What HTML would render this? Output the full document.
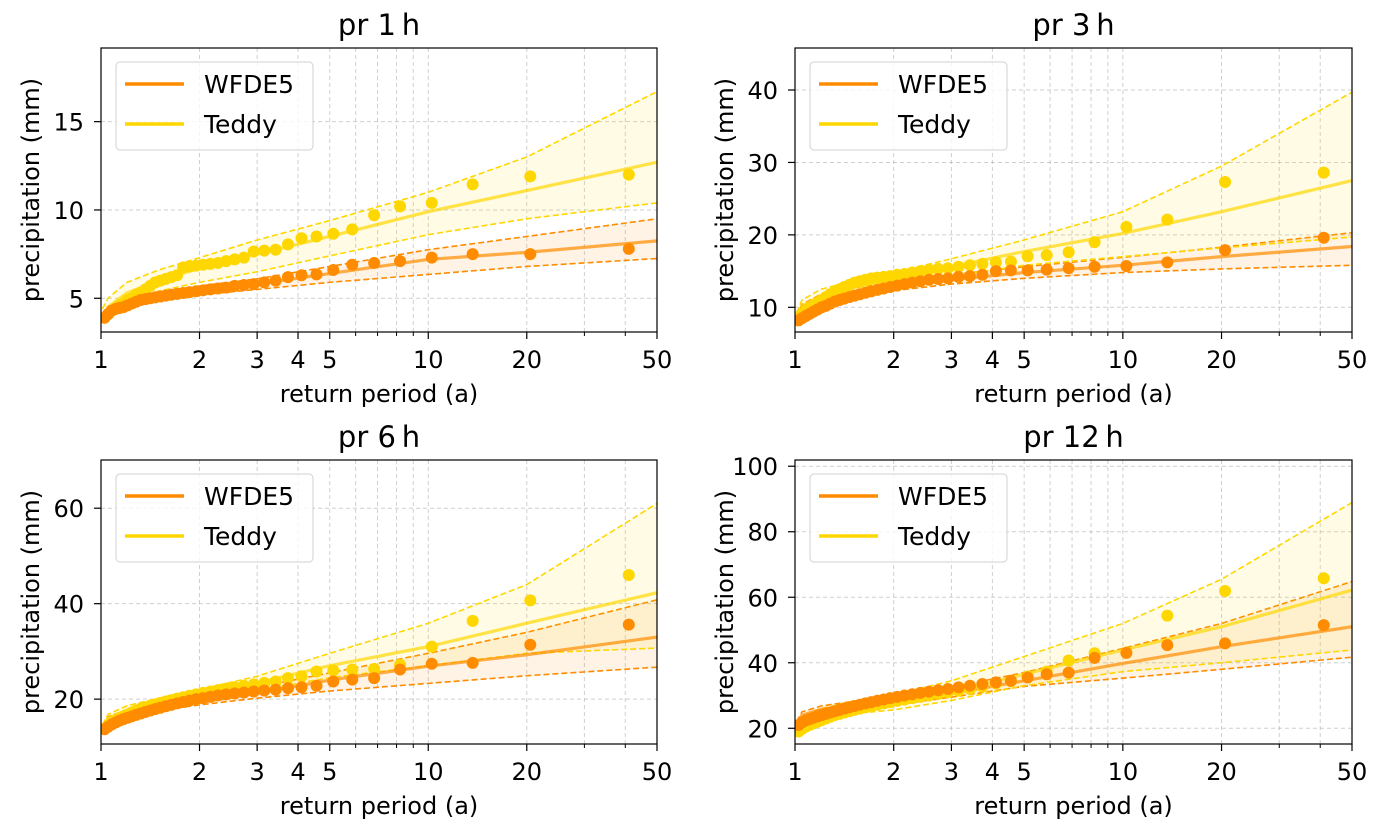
<!DOCTYPE html>
<html><head><meta charset="utf-8"><style>
html,body{margin:0;padding:0;background:#fff}
svg{display:block;font-family:"DejaVu Sans","Liberation Sans",sans-serif}
</style></head><body>
<svg id="fig" width="1385" height="830" viewBox="0 0 1385 830" xmlns="http://www.w3.org/2000/svg"></svg>
<script>
const fitT = [1.01,1.05,1.2,1.5,2,3,5,10,20,50];
const xTickVals = [1,2,3,4,5,10,20,50];
const xMinorVals = [6,7,8,9,30,40];
const panelTitles = ["pr 1\u2009h","pr 3\u2009h","pr 6\u2009h","pr 12\u2009h"];
const yTicks1 = [5,10,15];
const yTicks3 = [10,20,30,40];
const yTicks6 = [20,40,60];
const yTicks12 = [20,40,60,80,100];
// observed (sorted descending) values; return period = 41/rank
const wfde1 = [7.8,7.5,7.5,7.3,7.1,7.0,6.9,6.6,6.35,6.3,6.2,6.0,5.9,5.8,5.75,5.7,5.6,5.55,5.5,5.45,5.4,5.35,5.3,5.25,5.2,5.15,5.1,5.05,5.0,4.95,4.9,4.8,4.7,4.6,4.5,4.45,4.4,4.3,4.1,3.9];
const teddy1 = [12.0,11.9,11.45,10.4,10.2,9.7,8.9,8.65,8.5,8.4,8.05,7.75,7.7,7.65,7.3,7.2,7.1,7.0,6.95,6.9,6.85,6.8,6.75,6.3,6.2,6.1,6.0,5.9,5.7,5.5,5.3,5.2,5.0,4.9,4.7,4.6,4.4,4.3,4.1,3.9];
const wfde3 = [19.6,17.9,16.2,15.7,15.6,15.4,15.2,15.1,15.1,15.0,14.5,14.3,14.2,14.0,13.9,13.8,13.6,13.4,13.2,13.0,12.8,12.6,12.4,12.2,12.0,11.8,11.6,11.4,11.2,11.0,10.8,10.5,10.2,10.0,9.7,9.4,9.1,8.8,8.5,8.2];
const teddy3 = [28.6,27.3,22.1,21.1,19.0,17.6,17.2,17.05,16.3,16.2,16.0,15.8,15.6,15.4,15.3,15.2,15.0,14.8,14.6,14.5,14.3,14.2,14.1,14.0,13.8,13.6,13.4,13.1,12.8,12.5,12.2,11.8,11.4,11.0,10.6,10.2,9.8,9.4,9.0,8.5];
const wfde6 = [35.6,31.4,27.6,27.4,26.2,24.4,24.1,23.7,22.8,22.5,22.3,22.0,21.8,21.6,21.4,21.2,21.0,20.8,20.5,20.2,20.0,19.7,19.4,19.1,18.8,18.5,18.2,17.9,17.6,17.3,17.0,16.7,16.4,16.1,15.8,15.5,15.1,14.7,14.2,13.7];
const teddy6 = [46.0,40.7,36.4,31.0,27.2,26.3,26.2,26.0,25.8,24.8,24.4,23.7,23.4,23.1,22.8,22.5,22.2,21.9,21.6,21.3,21.0,20.7,20.4,20.1,19.8,19.5,19.2,18.9,18.6,18.3,18.0,17.6,17.2,16.8,16.4,16.0,15.5,15.0,14.4,13.8];
const wfde12 = [51.5,45.9,45.4,43.0,41.5,37.0,36.5,35.5,34.5,34.0,33.5,33.0,32.5,32.0,31.6,31.2,30.8,30.4,30.0,29.6,29.2,28.8,28.4,28.0,27.6,27.2,26.8,26.4,26.0,25.6,25.2,24.8,24.4,24.0,23.6,23.2,22.8,22.4,21.8,21.0];
const teddy12 = [65.8,61.9,54.4,43.1,42.9,40.7,37.3,35.8,34.4,33.7,32.7,32.0,31.5,31.0,30.5,30.0,29.6,29.2,28.8,28.4,28.0,27.6,27.2,26.8,26.4,26.0,25.6,25.2,24.8,24.4,24.0,23.5,23.0,22.5,22.0,21.5,21.0,20.5,19.8,19.0];
// fitted curves at fitT
const wFit1=[3.7,4.3,4.8,5.1,5.4,5.8,6.4,7.2,7.6,8.25], wLo1=[3.6,4.2,4.6,4.9,5.2,5.5,5.9,6.35,6.8,7.25], wHi1=[4.0,4.5,5.0,5.35,5.7,6.1,6.8,7.75,8.5,9.5];
const tFit1=[3.9,4.5,5.3,6.0,6.7,7.5,8.5,9.9,11.1,12.7], tLo1=[3.7,4.3,4.9,5.4,5.9,6.5,7.4,8.6,9.5,10.4], tHi1=[4.4,5.0,5.9,6.6,7.3,8.3,9.4,11.0,13.0,16.7];
const wFit3=[8.3,10.0,11.3,12.1,12.8,13.8,14.8,15.8,17.0,18.4], wLo3=[8.0,9.6,10.8,11.6,12.3,13.2,14.0,14.8,15.3,15.8], wHi3=[8.7,10.4,11.8,12.7,13.4,14.5,15.6,16.9,18.3,20.3];
const tFit3=[8.6,10.2,11.6,12.7,13.9,15.6,17.7,20.2,23.2,27.5], tLo3=[8.2,9.8,11.1,12.0,13.0,14.3,15.8,17.0,18.2,19.7], tHi3=[9.2,11.0,12.5,13.6,14.8,16.7,19.3,23.2,29.5,39.7];
const wFit6=[13.5,15.5,17.0,18.2,19.3,21.2,24.0,26.9,29.3,33.0], wLo6=[13.0,15.0,16.5,17.6,18.8,20.2,21.7,23.3,24.9,26.7], wHi6=[14.2,16.3,17.8,19.2,20.5,22.5,25.5,29.6,34.0,40.8];
const tFit6=[13.8,16.0,17.7,19.2,20.8,23.4,27.0,31.0,35.9,42.3], tLo6=[13.2,15.3,17.0,18.3,19.8,21.8,24.5,27.0,29.6,30.7], tHi6=[14.6,16.8,18.6,20.2,22.0,24.8,29.6,35.9,44.0,61.0];
const wFit12=[21.0,24.0,25.8,27.0,28.2,30.6,34.5,39.8,44.9,51.0], wLo12=[20.0,23.0,24.8,26.0,27.1,29.5,32.8,35.3,38.0,41.7], wHi12=[22.0,25.0,26.8,28.2,29.7,32.5,37.0,44.4,52.0,64.8];
const tFit12=[18.5,22.0,24.5,26.0,27.6,31.0,36.5,43.9,51.0,62.2], tLo12=[17.5,20.5,23.0,24.5,25.6,28.5,33.0,37.3,40.0,43.9], tHi12=[19.5,23.5,26.0,28.3,30.2,34.5,41.9,52.0,65.5,88.9];

const NS="http://www.w3.org/2000/svg";
const svg=document.getElementById('fig');
function mk(tag,attrs,parent){const e=document.createElementNS(NS,tag);for(const k in attrs)e.setAttribute(k,attrs[k]);(parent||svg).appendChild(e);return e;}
const WC="#ff8c00", TC="#ffd700";
const panels=[
 {x0:101,x1:657,y0:48,y1:332,ymin:3.09,ymax:19.17,ticks:yTicks1,w:wfde1,t:teddy1,wf:[wFit1,wLo1,wHi1],tf:[tFit1,tLo1,tHi1],name:"pr-1h"},
 {x0:795,x1:1352,y0:48,y1:332,ymin:6.59,ymax:45.8,ticks:yTicks3,w:wfde3,t:teddy3,wf:[wFit3,wLo3,wHi3],tf:[tFit3,tLo3,tHi3],name:"pr-3h"},
 {x0:101,x1:657,y0:460,y1:744,ymin:10.6,ymax:70.1,ticks:yTicks6,w:wfde6,t:teddy6,wf:[wFit6,wLo6,wHi6],tf:[tFit6,tLo6,tHi6],name:"pr-6h"},
 {x0:795,x1:1352,y0:460,y1:744,ymin:15.2,ymax:101.9,ticks:yTicks12,w:wfde12,t:teddy12,wf:[wFit12,wLo12,wHi12],tf:[tFit12,tLo12,tHi12],name:"pr-12h"}
];
panels.forEach((p,pi)=>{
 const g=mk('g',{});
 
 
 const xs=T=>p.x0+(p.x1-p.x0)*Math.log(T)/Math.log(50);
 const ys=v=>p.y1-(p.y1-p.y0)*(v-p.ymin)/(p.ymax-p.ymin);
 const cid='clip'+pi;
 const cp=mk('clipPath',{id:cid},g); mk('rect',{x:p.x0,y:p.y0,width:p.x1-p.x0,height:p.y1-p.y0},cp);
 xTickVals.concat(xMinorVals).forEach(v=>{
  const l=mk('line',{x1:xs(v),x2:xs(v),y1:p.y0,y2:p.y1,stroke:"#b0b0b0","stroke-width":1,"stroke-dasharray":"4,3",opacity:0.6},g);
  
  
 });
 p.ticks.forEach(v=>{
  const l=mk('line',{x1:p.x0,x2:p.x1,y1:ys(v),y2:ys(v),stroke:"#b0b0b0","stroke-width":1,"stroke-dasharray":"4,3",opacity:0.6},g);
  
  
 });
 const pg=mk('g',{"clip-path":`url(#${cid})`},g);
 function series(vals,col,label){
  const [fit,lo,hi]=vals;
  let d='M'+fitT.map((T,i)=>xs(T)+','+ys(hi[i])).join('L')+'L'+fitT.slice().reverse().map((T,j)=>{const i=fitT.length-1-j;return xs(T)+','+ys(lo[i]);}).join('L')+'Z';
  const f=mk('path',{d,fill:col,opacity:0.1},pg);
  
  
  [lo,hi].forEach((arr,k)=>{
   const l=mk('polyline',{points:fitT.map((T,i)=>xs(T)+','+ys(arr[i])).join(' '),fill:'none',stroke:col,'stroke-width':1.6,'stroke-dasharray':'6,3'},pg);
   
   
  });
 }
 function fitline(vals,col,label){
  const l=mk('polyline',{points:fitT.map((T,i)=>xs(T)+','+ys(vals[0][i])).join(' '),fill:'none',stroke:col,'stroke-width':3.2,opacity:0.7},pg);
  
  
 }
 function dots(arr,col,label){
  arr.forEach((v,i)=>{
   const c=mk('circle',{cx:xs(41/(i+1)),cy:ys(v),r:6,fill:col},pg);
   
   
  });
 }
 series(p.wf,WC,'wfde5'); series(p.tf,TC,'teddy');
 fitline(p.wf,WC,'wfde5'); fitline(p.tf,TC,'teddy');
 dots(p.t,TC,'teddy'); dots(p.w,WC,'wfde5');
 const fr=mk('rect',{x:p.x0,y:p.y0,width:p.x1-p.x0,height:p.y1-p.y0,fill:'none',stroke:'#000','stroke-width':1.2},g);
 
 
 xTickVals.forEach(v=>{
  mk('line',{x1:xs(v),x2:xs(v),y1:p.y1,y2:p.y1+7,stroke:'#000','stroke-width':1.2},g);
  const t=mk('text',{x:xs(v),y:p.y1+36,'text-anchor':'middle','font-size':24,fill:'#000'},g);
  t.textContent=v;
  
  
 });
 xMinorVals.forEach(v=>mk('line',{x1:xs(v),x2:xs(v),y1:p.y1,y2:p.y1+4,stroke:'#000','stroke-width':1},g));
 p.ticks.forEach(v=>{
  mk('line',{x1:p.x0-7,x2:p.x0,y1:ys(v),y2:ys(v),stroke:'#000','stroke-width':1.2},g);
  const t=mk('text',{x:p.x0-17,y:ys(v)+9,'text-anchor':'end','font-size':24,fill:'#000'},g);
  t.textContent=v;
  
  
 });
 const cx=(p.x0+p.x1)/2;
 const tt=mk('text',{x:cx,y:p.y0-13,'text-anchor':'middle','font-size':29,fill:'#000'},g);
 tt.textContent=panelTitles[pi];
 
 
 const xl=mk('text',{x:cx,y:p.y1+70,'text-anchor':'middle','font-size':24,fill:'#000'},g);
 xl.textContent='return period (a)';
 
 
 const yc=(p.y0+p.y1)/2, yx=p.x0-62;
 const yl=mk('text',{x:yx,y:yc,'text-anchor':'middle','font-size':24,fill:'#000',transform:`rotate(-90 ${yx} ${yc})`},g);
 yl.textContent='precipitation (mm)';
 
 
 const lg=mk('g',{},g);
 
 
 const lx=p.x0+15, ly=p.y0+14;
 mk('rect',{x:lx,y:ly,width:197,height:88,rx:4,fill:'#fff','fill-opacity':0.8,stroke:'#d0d0d0','stroke-width':1},lg);
 [['WFDE5',WC],['Teddy',TC]].forEach(([n,c],k)=>{
  const e=mk('g',{},lg);
  
  
  mk('line',{x1:lx+9,x2:lx+68,y1:ly+22+k*40,y2:ly+22+k*40,stroke:c,'stroke-width':3.5},e);
  const t=mk('text',{x:lx+88,y:ly+31+k*40,'font-size':25,fill:'#000'},e);
  t.textContent=n;
 });
});
</script>
</body></html>
